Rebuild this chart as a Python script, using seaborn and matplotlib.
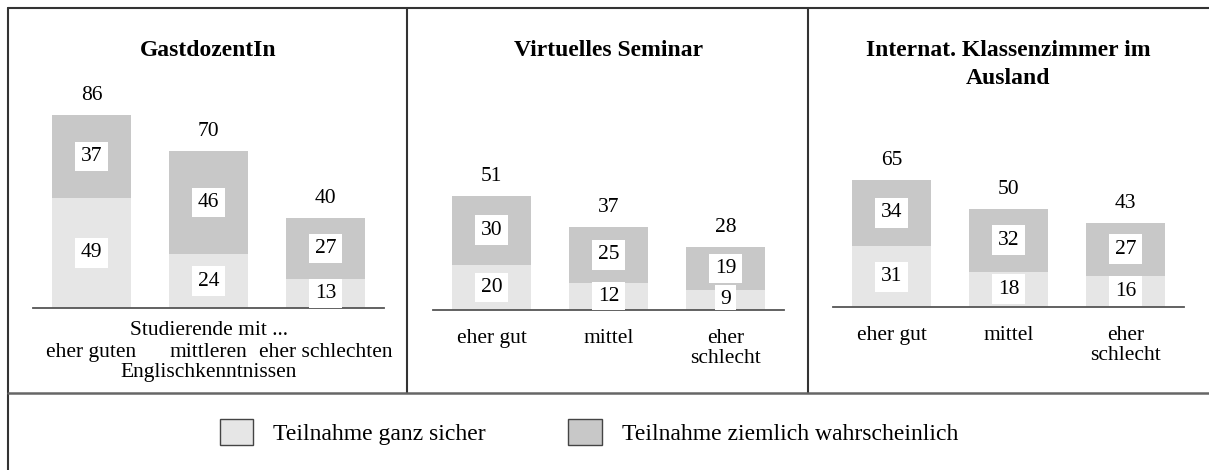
import matplotlib
matplotlib.use("Agg")
import matplotlib.pyplot as plt
from matplotlib.lines import Line2D
from matplotlib.patches import Patch
import pandas as pd
import seaborn as sns

# data
titles = ["GastdozentIn", "Virtuelles Seminar", "Internat. Klassenzimmer im\nAusland"]
cats_gast = ["eher guten", "mittleren", "eher schlechten"]
cats_other = ["eher gut", "mittel", "eher\nschlecht"]
sicher_gast = [49, 24, 13]
wahrsch_gast = [37, 46, 27]
total_gast = [86, 70, 40]
sicher_virt = [20, 12, 9]
wahrsch_virt = [30, 25, 19]
total_virt = [51, 37, 28]
sicher_ausl = [31, 18, 16]
wahrsch_ausl = [34, 32, 27]
total_ausl = [65, 50, 43]
legend_labels = ["Teilnahme ganz sicher", "Teilnahme ziemlich wahrscheinlich"]

LIGHT = "#e6e6e6"
DARK = "#c8c8c8"
W, H = 1209, 470

sns.set_theme(style="white")
plt.rcParams["font.family"] = ["Liberation Serif", "DejaVu Serif"]
plt.rcParams["text.color"] = "black"

fig = plt.figure(figsize=(W / 100, H / 100), dpi=100)


def fx(px):
    return px / W


def fy(py):
    return 1 - py / H


panels = [
    (cats_gast, sicher_gast, wahrsch_gast, total_gast, 33, 308, 224.5),
    (cats_other, sicher_virt, wahrsch_virt, total_virt, 433, 310, 224.5),
    (cats_other, sicher_ausl, wahrsch_ausl, total_ausl, 833, 307, 196),
]

for i, (cats, sich, wahr, tot, left, base, hgt) in enumerate(panels):
    ax = fig.add_axes([fx(left), fy(base), 351 / W, hgt / H])
    df = pd.DataFrame({"cat": cats, "sicher": sich, "wahr": wahr, "total": tot})
    sns.barplot(data=df, x="cat", y="total", color=DARK, saturation=1,
                width=0.675, linewidth=0, ax=ax)
    sns.barplot(data=df, x="cat", y="sicher", color=LIGHT, saturation=1,
                width=0.675, linewidth=0, ax=ax)
    ax.set_xlim(-0.5, 2.5)
    ax.set_ylim(0, 100)
    ax.set_xlabel("")
    ax.set_ylabel("")
    ax.set_yticks([])
    for s in ["top", "left", "right"]:
        ax.spines[s].set_visible(False)
    ax.spines["bottom"].set_color("#555555")
    ax.spines["bottom"].set_linewidth(1.3)
    pad = 25 if i == 0 else 14
    ax.tick_params(axis="x", length=0, pad=pad, labelsize=15.5, colors="black")
    for lab in ax.get_xticklabels():
        lab.set_linespacing(1.05)

    for j in range(3):
        ax.annotate(str(tot[j]), (j, tot[j]), xytext=(0, 14), textcoords="offset points",
                    ha="center", va="center", fontsize=15.5)
        box = dict(boxstyle="square,pad=0.25", fc="white", ec="none")
        ax.text(j, sich[j] / 2, str(sich[j]), ha="center", va="center",
                fontsize=15.5, bbox=box, clip_on=True)
        ax.text(j, (sich[j] + tot[j]) / 2, str(wahr[j]), ha="center", va="center",
                fontsize=15.5, bbox=box, clip_on=True)

    if i == 0:
        ax.annotate("Studierende mit ...", (1, 0), xytext=(0, -16.4), textcoords="offset points",
                    ha="center", va="center", fontsize=15.5)
        ax.annotate("Englischkenntnissen", (1, 0), xytext=(0, -46.6), textcoords="offset points",
                    ha="center", va="center", fontsize=15.5)

    fig.text(fx(left + 175.5), fy(40), titles[i], ha="center", va="top",
             fontsize=17, fontweight="bold", linespacing=1.45)

# frame lines
line_kw = dict(transform=fig.transFigure, color="#333333", linewidth=1.5)
fig.add_artist(Line2D([fx(8), 1], [fy(7.5), fy(7.5)], **line_kw))
fig.add_artist(Line2D([fx(8), fx(8)], [fy(7.5), 0], **line_kw))
fig.add_artist(Line2D([fx(407), fx(407)], [fy(7.5), fy(393)], **line_kw))
fig.add_artist(Line2D([fx(808), fx(808)], [fy(7.5), fy(393)], **line_kw))
fig.add_artist(Line2D([fx(8), 1], [fy(393), fy(393)], transform=fig.transFigure,
                      color="#666666", linewidth=1.8))

handles = [Patch(facecolor=LIGHT, edgecolor="#444444", linewidth=1),
           Patch(facecolor=DARK, edgecolor="#444444", linewidth=1)]
fig.legend(handles, legend_labels, loc="center", bbox_to_anchor=(fx(589), fy(432)),
           ncol=2, frameon=False, fontsize=17, handlelength=1.4, handleheight=1.3,
           handletextpad=0.85, columnspacing=3.5)

fig.savefig("out.png", dpi=100)
